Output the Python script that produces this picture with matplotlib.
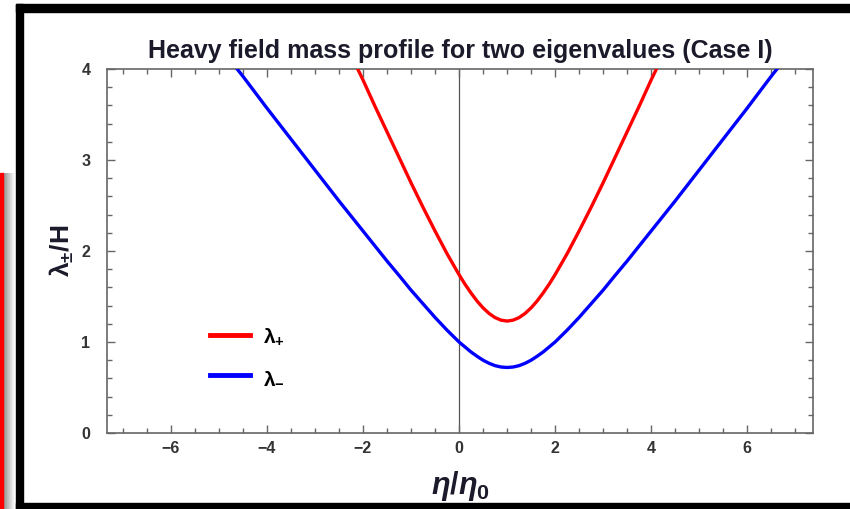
import matplotlib
matplotlib.use("Agg")
import matplotlib.pyplot as plt
import numpy as np
from matplotlib.patches import Rectangle
from matplotlib.ticker import MultipleLocator

plt.rcParams['font.family'] = ['Liberation Sans', 'DejaVu Sans']
plt.rcParams['mathtext.fontset'] = 'custom'
plt.rcParams['mathtext.rm'] = 'Liberation Sans:bold'
plt.rcParams['mathtext.it'] = 'Liberation Sans:bold:italic'
plt.rcParams['mathtext.bf'] = 'Liberation Sans:bold'

# lambda_+ / H versus eta/eta_0
eta_plus = [-2.11, -2.0, -1.75, -1.5, -1.25, -1.0, -0.75, -0.5, -0.25, 0.0,
            0.125, 0.25, 0.375, 0.5, 0.625, 0.75, 0.875, 1.0,
            1.125, 1.25, 1.375, 1.5, 1.625, 1.75, 1.875, 2.0,
            2.25, 2.5, 2.75, 3.0, 3.25, 3.5, 3.75, 4.0, 4.11]
lam_plus = [4.0, 3.88, 3.59, 3.31, 3.03, 2.75, 2.48, 2.22, 1.97, 1.74,
            1.634, 1.538, 1.450, 1.375, 1.314, 1.268, 1.240, 1.23,
            1.240, 1.268, 1.314, 1.375, 1.450, 1.538, 1.634, 1.74,
            1.97, 2.22, 2.48, 2.75, 3.03, 3.31, 3.59, 3.88, 4.0]

# lambda_- / H versus eta/eta_0
eta_minus = [-4.62, -4.5, -4.0, -3.5, -3.0, -2.5, -2.0, -1.75, -1.5, -1.25,
             -1.0, -0.75, -0.5, -0.25, 0.0,
             0.125, 0.25, 0.375, 0.5, 0.625, 0.75, 0.875, 1.0,
             1.125, 1.25, 1.375, 1.5, 1.625, 1.75, 1.875, 2.0,
             2.25, 2.5, 2.75, 3.0, 3.25, 3.5, 3.75, 4.0,
             4.5, 5.0, 5.5, 6.0, 6.5, 6.62]
lam_minus = [4.0, 3.92, 3.57, 3.23, 2.89, 2.55, 2.22, 2.055, 1.89, 1.732,
             1.57, 1.42, 1.27, 1.13, 1.0,
             0.945, 0.89, 0.843, 0.80, 0.766, 0.74, 0.725, 0.72,
             0.725, 0.74, 0.766, 0.80, 0.843, 0.89, 0.945, 1.0,
             1.13, 1.27, 1.42, 1.57, 1.732, 1.89, 2.055, 2.22,
             2.55, 2.89, 3.23, 3.57, 3.92, 4.0]

fig = plt.figure(figsize=(8.5, 5.09), dpi=100)

# page decoration: black frame and red edge strip with shadow
bg = fig.add_axes([0, 0, 1, 1], zorder=0)
bg.axis('off')
bg.add_patch(Rectangle((16, 4), 834, 8, color='black'))
bg.add_patch(Rectangle((16, 4), 7, 505, color='black'))
bg.add_patch(Rectangle((16, 503), 834, 6, color='black'))
bg.add_patch(Rectangle((0, 173), 3.5, 336, color='#ff0000'))
shade = np.linspace(0.55, 1.0, 64).reshape(1, -1)
bg.imshow(shade, cmap='gray', vmin=0, vmax=1, aspect='auto',
          extent=(3.5, 15, 509, 173), interpolation='bilinear')
bg.set_xlim(0, 850)
bg.set_ylim(509, 0)

ax = fig.add_axes([107/850, 1 - 433/509, 706/850, 364/509], zorder=1)
ax.patch.set_alpha(0)

ax.axvline(0, color='#555555', lw=0.9, zorder=1)
ax.plot(eta_plus, lam_plus, color='#ff0000', lw=2.4, label=r'$\mathrm{\lambda_{+}}$',
        zorder=3)
ax.plot(eta_minus, lam_minus, color='#0000ff', lw=2.4, label=r'$\mathrm{\lambda_{-}}$',
        zorder=3)

ax.set_xlim(-7.33, 7.37)
ax.set_ylim(0, 4)
ax.xaxis.set_major_locator(MultipleLocator(2))
ax.xaxis.set_minor_locator(MultipleLocator(0.5))
ax.yaxis.set_major_locator(MultipleLocator(1))
ax.yaxis.set_minor_locator(MultipleLocator(0.2))
ax.tick_params(which='both', direction='in', top=True, right=True,
               color='#666666', width=1)
ax.tick_params(which='major', length=6)
ax.tick_params(which='minor', length=3.5)
ax.tick_params(axis='x', which='major', pad=6)
ax.tick_params(axis='y', which='major', pad=12)
for lab in ax.get_xticklabels() + ax.get_yticklabels():
    lab.set_fontweight('bold')
    lab.set_fontsize(11.5)
    lab.set_color('#333333')
for s in ax.spines.values():
    s.set_color('#666666')
    s.set_linewidth(1.2)

ax.set_title('Heavy field mass profile for two eigenvalues (Case I)',
             fontsize=18, fontweight='bold', color='#1a1a2a', pad=8)
ax.set_xlabel(r'$\eta/\eta_0$', fontsize=22, color='#1a1a2a', labelpad=9)
ax.set_ylabel(r'$\mathrm{\lambda_{\pm}/H}$', fontsize=19, color='#1a1a2a', labelpad=4)

leg = ax.legend(loc='center left', bbox_to_anchor=(0.12, 0.21), frameon=False,
                handlelength=1.9, handletextpad=0.6, labelspacing=1.0,
                fontsize=15)
for h in leg.get_lines():
    h.set_linewidth(3.5)

fig.savefig('out.png', dpi=100)
